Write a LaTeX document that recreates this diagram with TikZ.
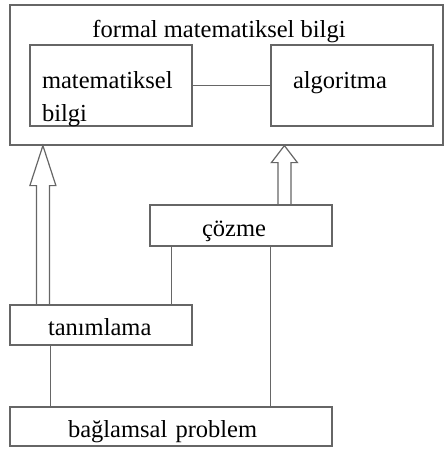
\documentclass[tikz,border=0pt]{standalone}
\usepackage{fontspec}
\setmainfont{Liberation Serif}
\usetikzlibrary{positioning,calc}
\definecolor{edgegray}{gray}{0.4}
\tikzset{
  box/.style={
    draw=edgegray,
    line width=1.2pt,
    rectangle,
    inner sep=0pt,
    font=\fontsize{24.5}{30}\selectfont,
    text height=21pt,
    text depth=0pt,
  },
  leftbox/.style={box, align=left, text width=#1},
  conn/.style={draw=edgegray, line width=1.2pt},
  hollow/.style={draw=edgegray, line width=1.2pt, line join=miter},
  ttl/.style={inner sep=0pt, anchor=base, font=\fontsize{24.5}{30}\selectfont},
}

\begin{document}
\begin{tikzpicture}[x=1pt, y=-1pt]
  \useasboundingbox (0,0) rectangle (444,453);

  \node[box, minimum width=433pt, minimum height=140pt] (outer) at (226.5,75) {};
  \node[ttl] (title) at (219,37) {formal matematiksel bilgi};
  \node[leftbox=138pt, minimum width=162pt, minimum height=81pt,
        font=\fontsize{24.5}{33}\selectfont,
        text height=6pt] (mat) at (111,85.5) {matematiksel\\bilgi};
  \node[leftbox=118pt, minimum width=162pt, minimum height=81pt,
        text height=5pt] (alg) at (352,85.5) {algoritma};

  \node[leftbox=78pt, minimum width=182pt, minimum height=41pt] (coz) at (241,225.5) {çözme};
  \node[leftbox=106pt, minimum width=182pt, minimum height=40pt] (tan) at (101,325) {tanımlama};
  \node[leftbox=206pt, minimum width=322pt, minimum height=39pt] (bag) at (171,426.5) {bağlamsal problem};

  \draw[conn] (mat) -- (alg);

  \coordinate (cozL) at ([xshift=22pt]coz.south west);
  \coordinate (cozR) at ([xshift=121pt]coz.south west);
  \coordinate (tanB) at ([xshift=41pt]tan.south west);
  \draw[conn] (cozL) -- (cozL |- tan.north);
  \draw[conn] (cozR) -- (cozR |- bag.north);
  \draw[conn] (tanB) -- (tanB |- bag.north);

  % hollow arrows up into the outer box
  \foreach \src/\off/\hl in {tan/33.5/40, coz/135/17}{
    \coordinate (b) at ([xshift=\off pt]\src.north west);
    \coordinate (t) at (b |- outer.south);
    \draw[hollow] ([xshift=-6.5pt]b) -- ([xshift=-6.5pt,yshift=-\hl pt]t)
      -- ([xshift=-13pt,yshift=-\hl pt]t) -- (t)
      -- ([xshift=13pt,yshift=-\hl pt]t) -- ([xshift=6.5pt,yshift=-\hl pt]t)
      -- ([xshift=6.5pt]b);
  }
\end{tikzpicture}
\end{document}
